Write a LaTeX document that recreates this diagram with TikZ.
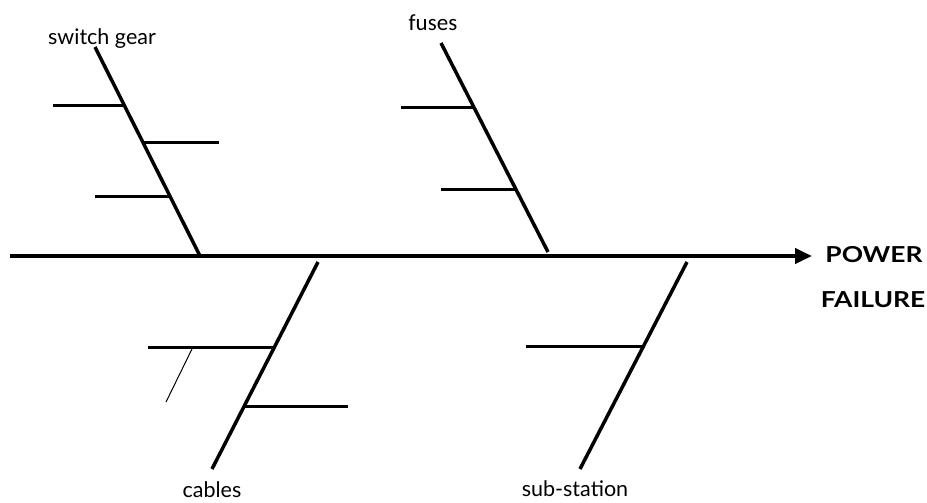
\documentclass[tikz,border=0pt]{standalone}
\usepackage{fontspec}
\setmainfont{Lato}
\newfontfamily\calfont{Carlito}
\usetikzlibrary{arrows.meta,calc}
\begin{document}
\begin{tikzpicture}[x=1pt,y=-1pt,
  spine/.style={line width=4pt},
  bone/.style={line width=3.5pt},
  rib/.style={line width=3pt},
  thinline/.style={line width=1pt},
  lbl/.style={font=\fontsize{21.5}{24}\selectfont, inner sep=0pt},
  eff/.style={font=\fontsize{22}{24}\selectfont\bfseries, inner sep=0pt, xscale=1.2}]
\useasboundingbox (0,0) rectangle (927,503);
% spine
\coordinate (tail) at (10,256);
\coordinate (head) at (812,256);
\draw[spine,-{Triangle[length=17pt,width=15pt]}] (tail) -- (head);
% labels
\node[lbl] (sg) at (102,39) {switch gear};
\node[lbl,font=\calfont\fontsize{23}{26}\selectfont] (fu) at (433,23) {fuses};
\node[lbl] (ca) at (212,490) {cables};
\node[lbl] (ss) at (575,489) {sub-station};
\node[eff] (pw) at (874,255) {POWER};
\node[eff] (fa) at (873,300) {FAILURE};
% switch gear bone
\coordinate (sgT) at (95,47);
\coordinate (sgB) at (200,256);
\draw[bone] (sgT) -- (sgB);
\draw[rib] ($(sgT)!0.282!(sgB)$) -- ++(-72,0);
\draw[rib] ($(sgT)!0.455!(sgB)$) -- ++(76,0);
\draw[rib] ($(sgT)!0.713!(sgB)$) -- ++(-75,0);
% fuses bone
\coordinate (fuT) at (441,43);
\coordinate (fuB) at (548,252);
\draw[bone] (fuT) -- (fuB);
\draw[rib] ($(fuT)!0.311!(fuB)$) -- ++(-73,0);
\draw[rib] ($(fuT)!0.703!(fuB)$) -- ++(-75,0);
% cables bone
\coordinate (caT) at (318,262);
\coordinate (caB) at (212,469);
\draw[bone] (caT) -- (caB);
\draw[rib] ($(caT)!0.415!(caB)$) -- ++(-126,0);
\draw[rib] ($(caT)!0.700!(caB)$) -- ++(104,0);
\coordinate (thA) at (192,349);
\coordinate (thB) at (166,402);
\draw[thinline] (thA) -- (thB);
% sub-station bone
\coordinate (ssT) at (687,262);
\coordinate (ssB) at (580,469);
\draw[bone] (ssT) -- (ssB);
\draw[rib] ($(ssT)!0.406!(ssB)$) -- ++(-118,0);
\end{tikzpicture}
\end{document}
